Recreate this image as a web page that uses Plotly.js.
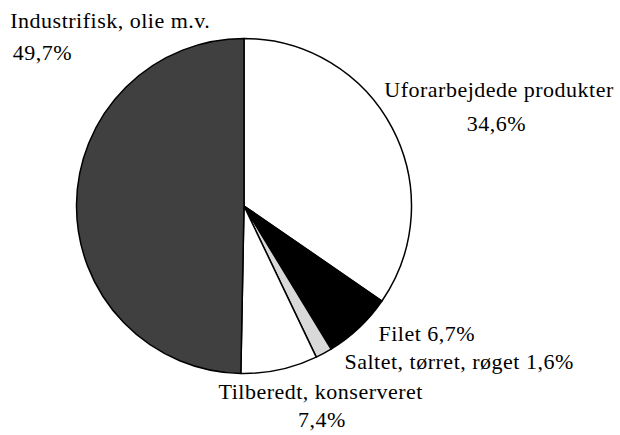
<!DOCTYPE html>
<html>
<head>
<meta charset="utf-8">
<script src="https://cdn.plot.ly/plotly-3.0.1.min.js"></script>
<style>
html,body{margin:0;padding:0;background:#fff;}
#chart{width:620px;height:435px;}
#chart .annotation-text{letter-spacing:0.5px;}
</style>
</head>
<body>
<div id="chart"></div>
<script>
var categories = ["Uforarbejdede produkter", "Filet", "Saltet, tørret, røget", "Tilberedt, konserveret", "Industrifisk, olie m.v."];
var shares = [34.6, 6.7, 1.6, 7.4, 49.7];
var shareLabels = ["34,6%", "6,7%", "1,6%", "7,4%", "49,7%"];
var sliceColors = ["#ffffff", "#000000", "#d9d9d9", "#ffffff", "#404040"];

var W = 620, H = 435;
var cx = 244, cy = 206, r = 167.5;

var trace = {
  type: "pie",
  labels: categories,
  values: shares,
  sort: false,
  direction: "clockwise",
  rotation: 0,
  textinfo: "none",
  hoverinfo: "none",
  marker: {colors: sliceColors, line: {color: "#000000", width: 1.5}},
  domain: {
    x: [(cx - r) / W, (cx + r) / W],
    y: [(H - cy - r) / H, (H - cy + r) / H]
  }
};

function ann(text, x, baseline, anchor) {
  return {
    text: text, xref: "paper", yref: "paper",
    x: x / W, y: (H - (baseline - 8.5)) / H,
    xanchor: anchor, yanchor: "middle",
    showarrow: false,
    font: {family: "Liberation Serif", size: 22, color: "#000"}
  };
}

var annotations = [
  ann(categories[4], 14, 29, "left"),
  ann(shareLabels[4], 12, 61, "left"),
  ann(categories[0], 499, 98, "center"),
  ann(shareLabels[0], 496, 132, "center"),
  ann(categories[1] + " " + shareLabels[1], 379, 342, "left"),
  ann(categories[2] + " " + shareLabels[2], 349, 370, "left"),
  ann(categories[3], 320, 400, "center"),
  ann(shareLabels[3], 322, 428, "center")
];

var layout = {
  width: W, height: H,
  margin: {l: 0, r: 0, t: 0, b: 0, pad: 0},
  paper_bgcolor: "#ffffff",
  showlegend: false,
  annotations: annotations
};

Plotly.newPlot("chart", [trace], layout, {displayModeBar: false, staticPlot: true});
</script>
</body>
</html>
